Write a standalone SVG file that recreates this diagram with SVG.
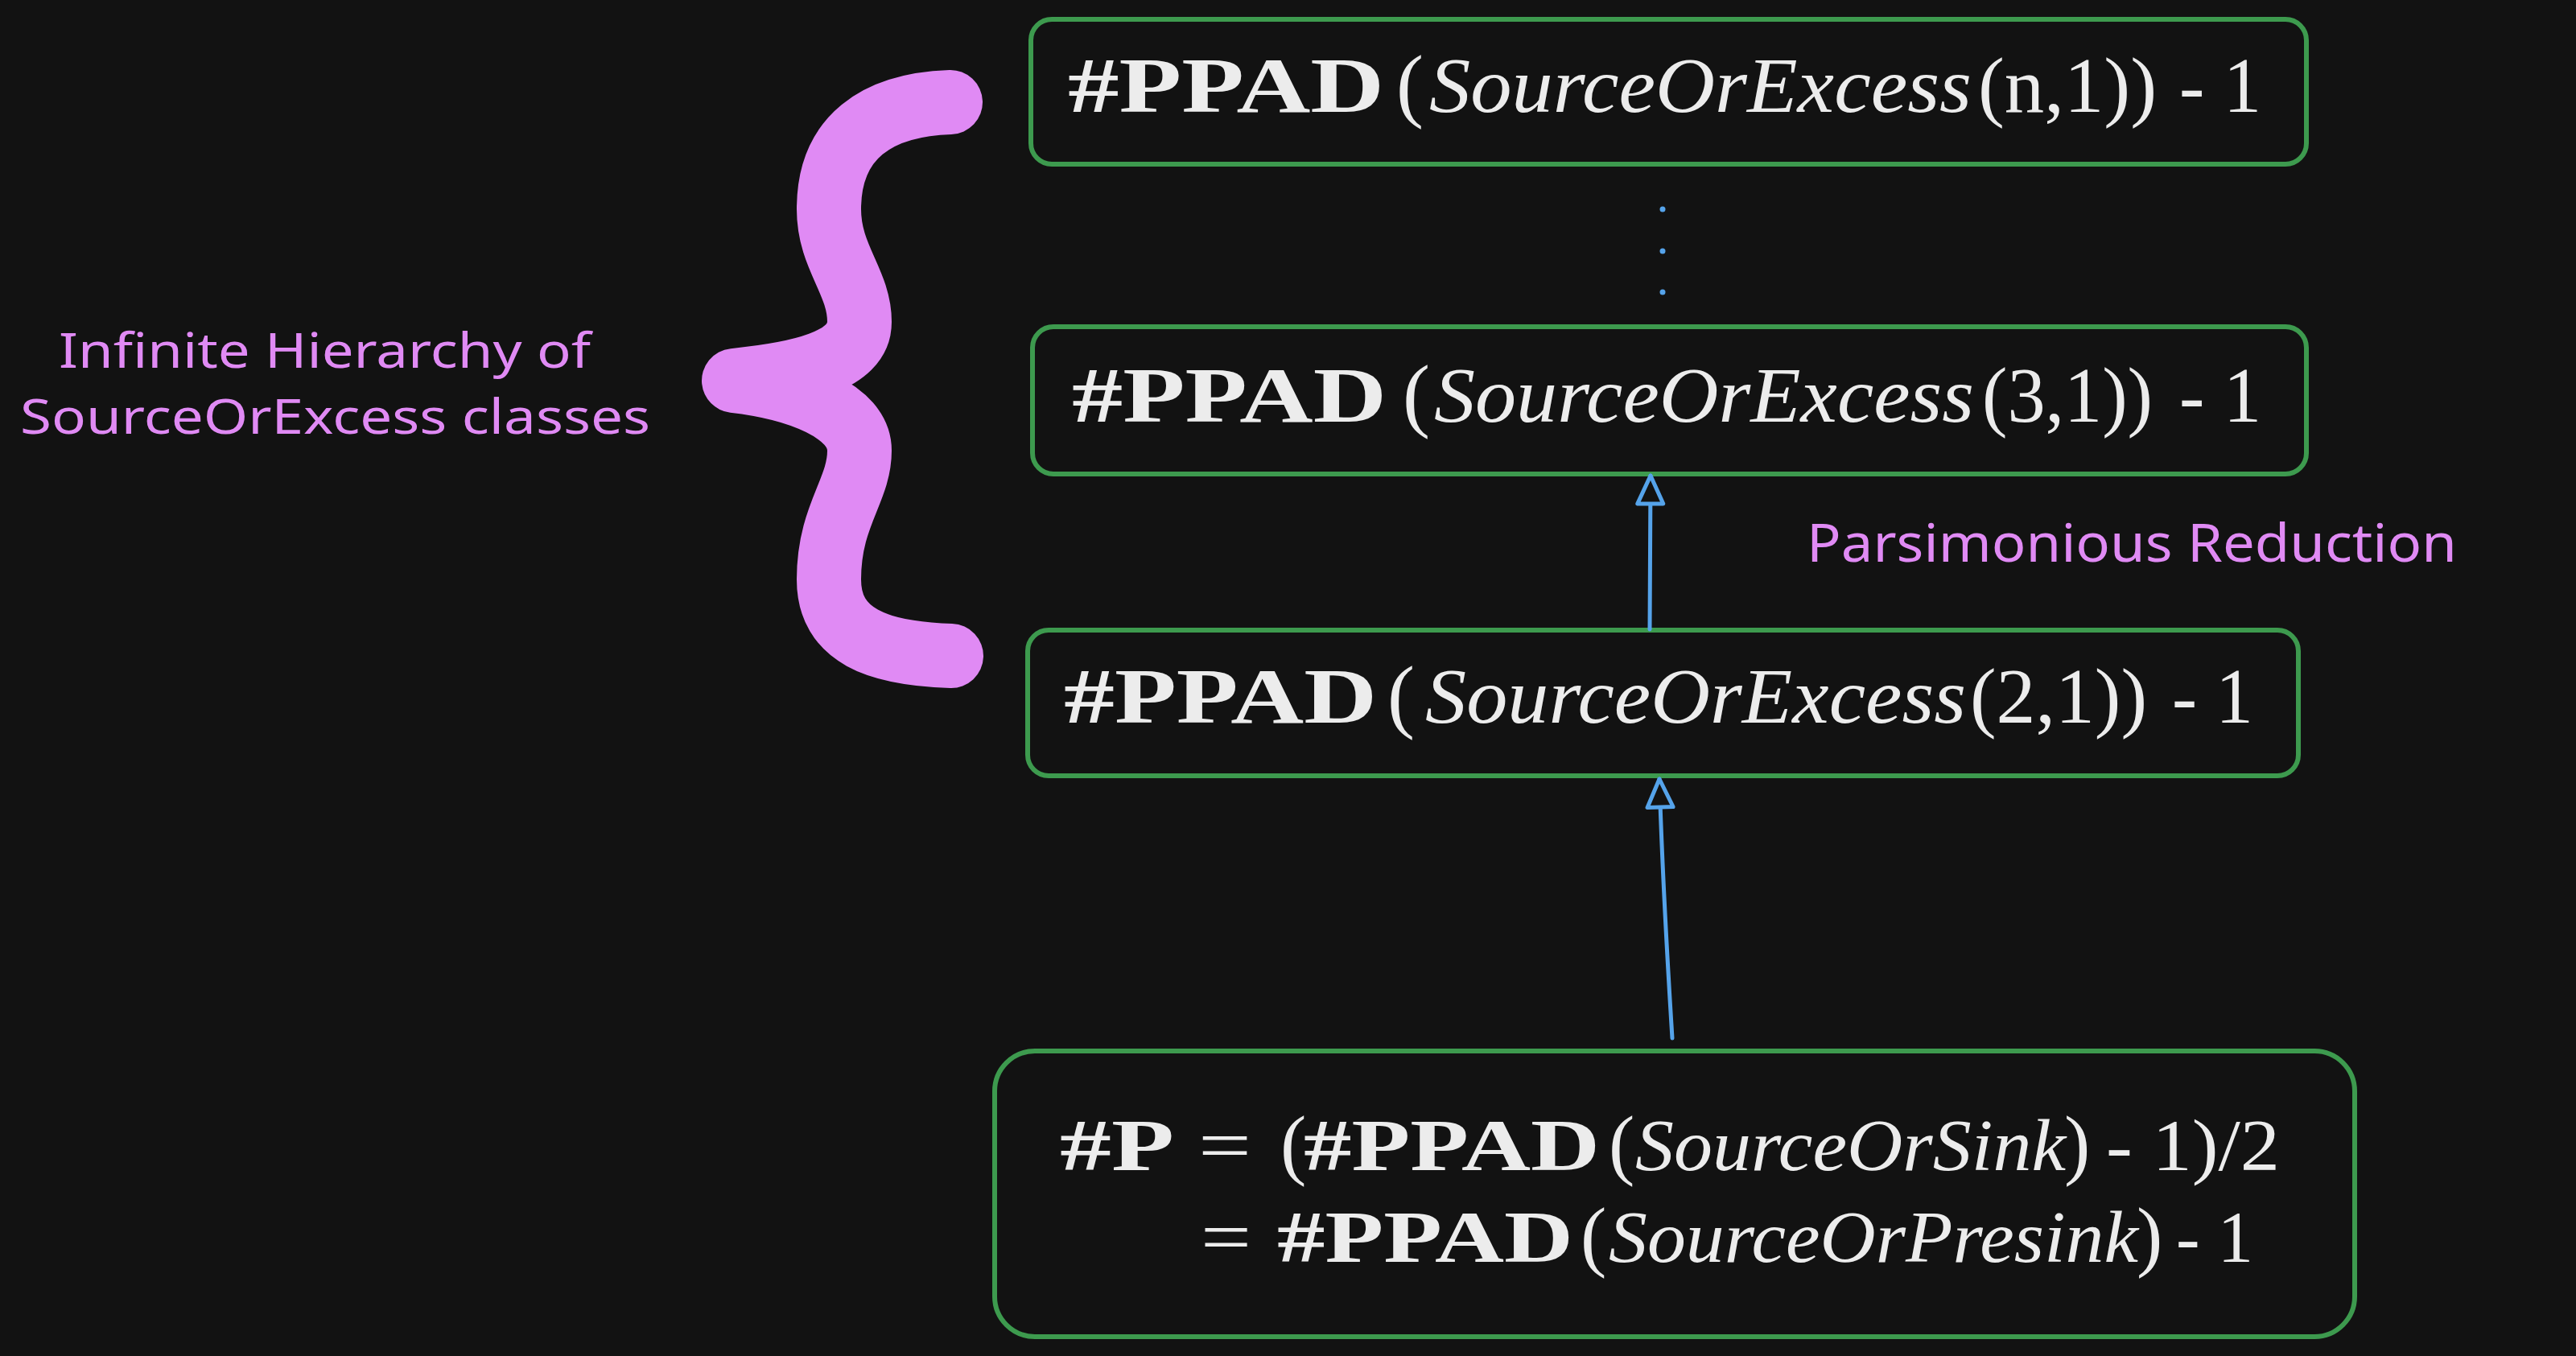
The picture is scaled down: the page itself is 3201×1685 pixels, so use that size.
<svg xmlns="http://www.w3.org/2000/svg" width="3201" height="1685" viewBox="0 0 3201 1685">
<style>
.bg{fill:#121212}
.box{fill:#121212;stroke:#3d9a4e;stroke-width:6}
.m{font-family:"Liberation Serif","DejaVu Serif",serif;fill:#ececec;font-size:97px}
.b{font-weight:bold}
.i{font-style:italic}
.p{font-size:102px}
.m4{font-size:90px}
.p4{font-size:97px}
.lbl{font-family:"Noto Sans","Liberation Sans",sans-serif;fill:#e08af4}
.conn{fill:none;stroke:#55a3ea;stroke-width:5;stroke-linecap:round}
.dot{fill:#55a3ea}
</style>
<defs>
<marker id="ah" markerUnits="userSpaceOnUse" markerWidth="60" markerHeight="60" refX="40" refY="30" orient="auto" overflow="visible">
<path d="M40,30 L5,14 L5,46 Z" fill="#121212" stroke="#55a3ea" stroke-width="5" stroke-linejoin="round"/>
</marker>
</defs>
<rect class="bg" x="0" y="0" width="3201" height="1685"/>

<g id="brace">
<path d="M1181,127 C1090,130 1030,170 1030,260 C1030,320 1068,350 1068,400 C1068,450 990,465 912,473 C990,482 1068,510 1068,560 C1068,610 1030,640 1030,720 C1030,790 1090,812 1182,815" fill="none" stroke="#e08af4" stroke-width="80" stroke-linecap="round" stroke-linejoin="round"/>
</g>

<g id="label-hierarchy">
<text class="lbl" x="73" y="457" font-size="60" textLength="661" lengthAdjust="spacingAndGlyphs">Infinite Hierarchy of</text>
<text class="lbl" x="25" y="539" font-size="60" textLength="783" lengthAdjust="spacingAndGlyphs">SourceOrExcess classes</text>
</g>

<g id="label-reduction">
<text class="lbl" x="2245" y="698" font-size="66" textLength="808" lengthAdjust="spacingAndGlyphs">Parsimonious Reduction</text>
</g>

<g id="node-n">
<rect class="box" x="1281" y="24" width="1585" height="180" rx="26"/>
<text class="m b" x="1327" y="139" textLength="393" lengthAdjust="spacingAndGlyphs">#PPAD</text>
<text class="m p" x="1735" y="139">(</text>
<text class="m i" x="1776" y="139" textLength="674" lengthAdjust="spacingAndGlyphs">SourceOrExcess</text>
<text class="m" x="2458" y="139" textLength="222" lengthAdjust="spacingAndGlyphs">(n,1))</text>
<text class="m" x="2708" y="139" textLength="102" lengthAdjust="spacingAndGlyphs">- 1</text>
</g>

<g id="dots">
<circle class="dot" cx="2066" cy="260" r="3.5"/>
<circle class="dot" cx="2066" cy="312" r="3.5"/>
<circle class="dot" cx="2066" cy="363" r="3.5"/>
</g>

<g id="node-3">
<rect class="box" x="1283" y="406" width="1583" height="183" rx="26"/>
<text class="m b" x="1332" y="524" textLength="391" lengthAdjust="spacingAndGlyphs">#PPAD</text>
<text class="m p" x="1743" y="524">(</text>
<text class="m i" x="1782" y="524" textLength="671" lengthAdjust="spacingAndGlyphs">SourceOrExcess</text>
<text class="m" x="2463" y="524" textLength="212" lengthAdjust="spacingAndGlyphs">(3,1))</text>
<text class="m" x="2708" y="524" textLength="102" lengthAdjust="spacingAndGlyphs">- 1</text>
</g>

<g id="node-2">
<rect class="box" x="1277" y="783" width="1579" height="181" rx="26"/>
<text class="m b" x="1322" y="898" textLength="389" lengthAdjust="spacingAndGlyphs">#PPAD</text>
<text class="m p" x="1724" y="898">(</text>
<text class="m i" x="1771" y="898" textLength="672" lengthAdjust="spacingAndGlyphs">SourceOrExcess</text>
<text class="m" x="2448" y="898" textLength="220" lengthAdjust="spacingAndGlyphs">(2,1))</text>
<text class="m" x="2699" y="898" textLength="101" lengthAdjust="spacingAndGlyphs">- 1</text>
</g>

<g id="node-p">
<rect class="box" x="1236" y="1306" width="1690" height="355" rx="50"/>
<text class="m m4 b" x="1317" y="1454" textLength="142" lengthAdjust="spacingAndGlyphs">#P</text>
<text class="m m4" x="1489" y="1454" textLength="66" lengthAdjust="spacingAndGlyphs">=</text>
<text class="m p4" x="1591" y="1454">(</text>
<text class="m m4 b" x="1620" y="1454" textLength="368" lengthAdjust="spacingAndGlyphs">#PPAD</text>
<text class="m p4" x="1999" y="1454">(</text>
<text class="m m4 i" x="2032" y="1454" textLength="535" lengthAdjust="spacingAndGlyphs">SourceOrSink</text>
<text class="m p4" x="2565" y="1454">)</text>
<text class="m m4" x="2617" y="1454" textLength="216" lengthAdjust="spacingAndGlyphs">- 1)/2</text>
<text class="m m4" x="1492" y="1568" textLength="63" lengthAdjust="spacingAndGlyphs">=</text>
<text class="m m4 b" x="1587" y="1568" textLength="368" lengthAdjust="spacingAndGlyphs">#PPAD</text>
<text class="m p4" x="1964" y="1568">(</text>
<text class="m m4 i" x="1999" y="1568" textLength="658" lengthAdjust="spacingAndGlyphs">SourceOrPresink</text>
<text class="m p4" x="2655" y="1568">)</text>
<text class="m m4" x="2704" y="1568" textLength="96" lengthAdjust="spacingAndGlyphs">- 1</text>
</g>

<g id="connectors">
<path class="conn" d="M2050,782 L2051,591" marker-end="url(#ah)"/>
<path class="conn" d="M2078,1290 Q2066,1100 2062,968" marker-end="url(#ah)"/>
</g>
</svg>
